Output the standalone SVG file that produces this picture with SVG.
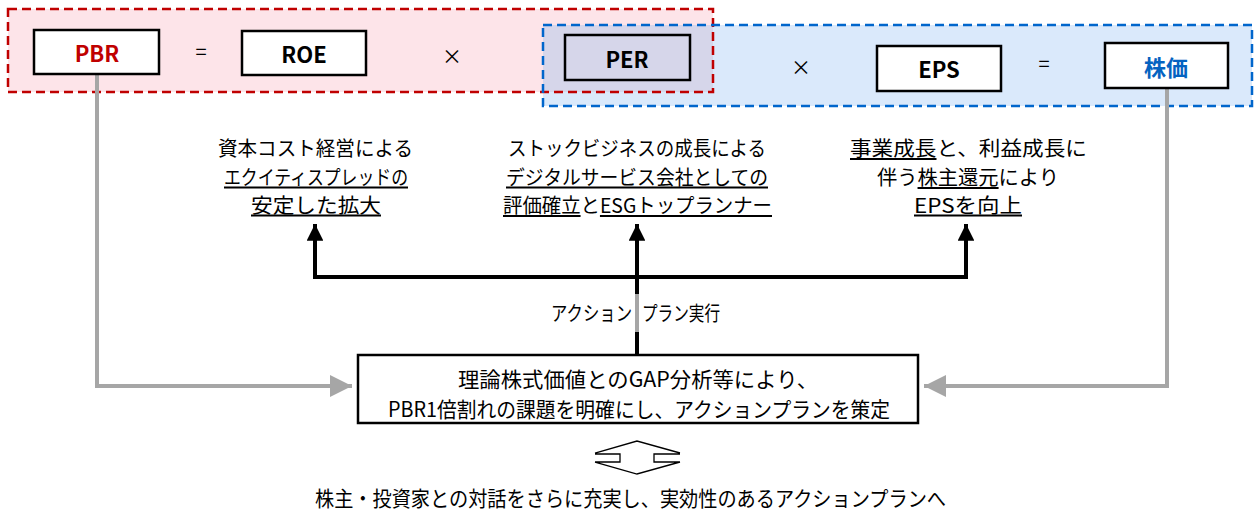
<svg xmlns="http://www.w3.org/2000/svg" width="1257" height="513" viewBox="0 0 1257 513">
<defs>
<style>
text{font-family:"Noto Sans CJK JP","Liberation Sans",sans-serif;fill:#000;dominant-baseline:central;text-anchor:middle}
.t{font-size:20px}
.lab{font-size:22px;font-weight:bold}
.op{font-size:20px}
.box{fill:#fff;stroke:#000;stroke-width:2.5}
.u{text-decoration:underline}
.blk{stroke:#000;stroke-width:4;fill:none}
.gry{stroke:#a6a6a6;stroke-width:4;fill:none}
</style>
<marker id="ab" viewBox="0 0 10 10" refX="10" refY="5" markerWidth="5.5" markerHeight="4.2" orient="auto" markerUnits="strokeWidth">
<path d="M0,0L10,5L0,10Z" fill="#000"/>
</marker>
<marker id="ag" viewBox="0 0 10 10" refX="10" refY="5" markerWidth="5.5" markerHeight="6" orient="auto" markerUnits="strokeWidth">
<path d="M0,0L10,5L0,10Z" fill="#a6a6a6"/>
</marker>
</defs>
<rect width="1257" height="513" fill="#fff"/>
<g id="groups">
<rect x="8" y="9" width="705" height="83" fill="#fde4e9"/>
<rect x="543" y="25" width="709" height="81" fill="#dae9fb"/>
<rect x="543" y="25" width="170" height="67" fill="#d6d6ea"/>
<rect x="8" y="9" width="705" height="83" fill="none" stroke="#c00000" stroke-width="2.5" stroke-dasharray="9 5"/>
<rect x="543" y="25" width="709" height="81" fill="none" stroke="#0066cc" stroke-width="2.5" stroke-dasharray="9 5"/>
</g>
<g id="connectors">
<path class="gry" d="M97,74V386H352" marker-end="url(#ag)"/>
<path class="gry" d="M1167,88V386H924" marker-end="url(#ag)"/>
<path class="blk" d="M315,277H966"/>
<path class="blk" d="M315,279V224" marker-end="url(#ab)"/>
<path class="blk" d="M966,279V224" marker-end="url(#ab)"/>
<path class="blk" d="M637,355V224" marker-end="url(#ab)"/>
<path d="M637,294V332" stroke="#a6a6a6" stroke-width="4"/>
<path d="M595,453L637,441L680,453M595,454H620V462H595M680,454H654V462H680M595,462L637,474L680,462" fill="none" stroke="#000" stroke-width="1.3"/>
</g>
<g id="pbr"><rect class="box" x="34" y="30" width="125" height="44"/><text class="lab" x="97" y="52" style="fill:#c00000">PBR</text></g>
<text class="op" x="201" y="50">=</text>
<g id="roe"><rect class="box" x="242" y="31" width="124" height="44"/><text class="lab" x="304" y="53">ROE</text></g>
<text class="op" x="452" y="55">×</text>
<g id="per"><rect class="box" x="565" y="35" width="125" height="45" style="fill:#d6d6ea"/><text class="lab" x="627" y="58">PER</text></g>
<text class="op" x="801" y="66">×</text>
<g id="eps"><rect class="box" x="877" y="46" width="124" height="45"/><text class="lab" x="939" y="68">EPS</text></g>
<text class="op" x="1044" y="62">=</text>
<g id="kabuka"><rect class="box" x="1105" y="43" width="123" height="45"/><text class="lab" x="1166" y="66" style="fill:#0563c1">株価</text></g>
<g id="roe-text">
<text class="t" x="315.5" y="147" textLength="195" lengthAdjust="spacingAndGlyphs">資本コスト経営による</text>
<text class="t u" x="316" y="176" textLength="184" lengthAdjust="spacingAndGlyphs">エクイティスプレッドの</text>
<text class="t u" x="316" y="204" textLength="130" lengthAdjust="spacingAndGlyphs">安定した拡大</text>
</g>
<g id="per-text">
<text class="t" x="637" y="147" textLength="258" lengthAdjust="spacingAndGlyphs">ストックビジネスの成長による</text>
<text class="t u" x="637" y="176" textLength="262" lengthAdjust="spacingAndGlyphs">デジタルサービス会社としての</text>
<text class="t" x="637.5" y="204" textLength="269" lengthAdjust="spacingAndGlyphs"><tspan class="u">評価確立</tspan>と<tspan class="u">ESGトップランナー</tspan></text>
</g>
<g id="eps-text">
<text class="t" x="968.5" y="147" textLength="237" lengthAdjust="spacingAndGlyphs"><tspan class="u">事業成長</tspan>と、利益成長に</text>
<text class="t" x="968" y="176" textLength="182" lengthAdjust="spacingAndGlyphs">伴う<tspan class="u">株主還元</tspan>により</text>
<text class="t u" x="968" y="204" textLength="108" lengthAdjust="spacingAndGlyphs">EPSを向上</text>
</g>
<g id="action-label">
<text class="t" x="591.5" y="312" textLength="81" lengthAdjust="spacingAndGlyphs">アクション</text>
<text class="t" x="681" y="312" textLength="78" lengthAdjust="spacingAndGlyphs">プラン実行</text>
</g>
<g id="plan">
<rect class="box" x="358" y="355" width="560" height="68"/>
<text class="t" x="638" y="378" textLength="360" lengthAdjust="spacingAndGlyphs" style="font-size:21px">理論株式価値とのGAP分析等により、</text>
<text class="t" x="639" y="408" textLength="502" lengthAdjust="spacingAndGlyphs" style="font-size:21px">PBR1倍割れの課題を明確にし、アクションプランを策定</text>
</g>
<g id="dialogue">
<text class="t" x="630.5" y="497" textLength="631" lengthAdjust="spacingAndGlyphs" style="font-size:21px">株主・投資家との対話をさらに充実し、実効性のあるアクションプランへ</text>
</g>
</svg>
